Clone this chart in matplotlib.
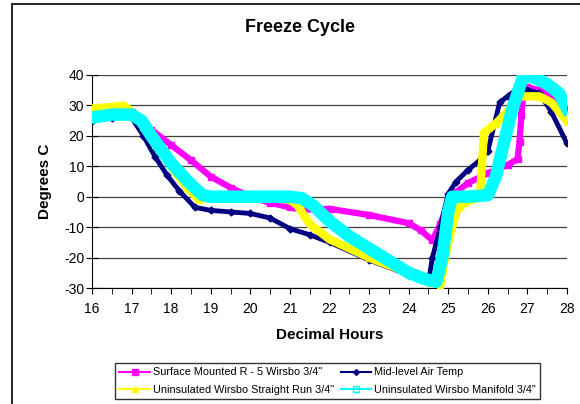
import matplotlib.pyplot as plt
from matplotlib.patches import Rectangle

plt.rcParams['font.family'] = ['Liberation Sans', 'DejaVu Sans']
plt.rcParams['axes.unicode_minus'] = False

# surface mounted (magenta)
mag_x = [16.0, 16.5, 17.0, 17.5, 18.0, 18.5, 19.0, 19.5, 20.0, 20.5, 21.0, 21.3, 22.0, 23.0, 24.0,
         24.3, 24.6, 24.8, 25.0, 25.2, 25.5, 26.0, 26.5, 26.75, 26.8, 26.85, 26.9, 27.0, 27.3, 27.6, 28.0]
mag_y = [28, 28.5, 28, 22, 17, 12, 6.6, 3, 0, -2, -3.5, -4.3, -4, -6, -8.7,
         -11, -14.3, -9, -2, 1.5, 4.5, 7.7, 10.4, 12.4, 18, 27, 35, 36, 35, 33, 29]

# mid-level air temp (navy)
air_x = [16.0, 16.5, 17.0, 17.3, 17.6, 17.9, 18.2, 18.6, 19.0, 19.5, 20.0, 20.5, 21.0, 21.5, 22.0,
         23.0, 24.0, 24.5, 24.6, 24.8, 25.0, 25.2, 25.5, 25.8, 26.0, 26.3, 26.5, 26.8, 27.0, 27.3, 27.6, 28.0]
air_y = [25, 26, 26, 20, 13, 7, 2, -3.5, -4.5, -5, -5.5, -7, -10.5, -12.5, -15,
         -20.8, -25.7, -28, -20, -10, 1, 5, 8.8, 12, 15, 31, 33, 36, 35, 34, 28, 17.5]

# straight run (yellow)
str_x = [16.0, 16.5, 16.8, 17.0, 17.3, 17.6, 18.0, 18.4, 18.7, 19.0, 20.0, 21.0, 21.2, 21.5, 22.0,
         23.0, 24.0, 24.5, 24.8, 25.0, 25.2, 25.4, 25.8, 25.85, 25.9, 26.2, 26.5, 26.8, 27.0, 27.3, 27.6, 28.0]
str_y = [29, 29.5, 30, 28, 23, 17, 10, 3, -1, 0, 0, -1, -3, -9, -14,
         -20, -25, -28, -29, -15, -5, -2, 0, 10, 21, 24, 28, 33, 33, 33, 31, 25]

# manifold (cyan)
man_x = [16.0, 16.5, 17.0, 17.25, 17.5, 18.0, 18.5, 18.8, 19.0, 19.5, 20.0, 20.5, 21.0, 21.3, 21.6,
         22.0, 22.5, 23.0, 23.5, 24.0, 24.4, 24.7, 24.85, 25.0, 25.1, 25.5, 26.0, 26.2, 26.3, 26.6,
         26.9, 27.2, 27.5, 27.8, 28.0]
man_y = [26, 27, 27, 25, 20, 11, 4, 0.5, 0, 0, 0, 0, 0, -0.5, -3,
         -8, -13, -17, -21, -25, -27, -28, -20, -5, 0, 0, 0.5, 6.5, 12, 28,
         40, 39, 37, 34, 29]

fig = plt.figure(figsize=(5.8, 4.04), dpi=100)
# chart area border, cropped on the right and bottom like the reference
fig.patches.append(Rectangle((12 / 580, -0.1), 1.2, 1 - 4 / 404 + 0.1, transform=fig.transFigure,
                             fill=False, edgecolor='black', linewidth=1.2))

ax = fig.add_axes([92 / 580, 1 - 288 / 404, 475 / 580, 213 / 404])

ax.plot(mag_x, mag_y, color='#ff00ff', linewidth=4.5, marker='s', markersize=4, zorder=2)
ax.plot(air_x, air_y, color='#000080', linewidth=3.5, marker='D', markersize=3.5, zorder=3)
ax.plot(str_x, str_y, color='#ffff00', linewidth=6, marker='^', markersize=4.5, zorder=4)
ax.plot(man_x, man_y, color='#00ffff', linewidth=9, marker='s', markersize=5, markerfacecolor='none', zorder=5)

ax.set_xlim(16, 28)
ax.set_ylim(-30, 40)
ax.set_xticks(range(16, 29))
ax.set_xticks([x + 0.5 for x in range(16, 28)], minor=True)
ax.set_yticks(range(-30, 41, 10))
ax.tick_params(axis='x', direction='out', length=4, labelsize=10, pad=6)
ax.tick_params(axis='x', which='minor', direction='out', length=4)
ax.tick_params(axis='y', direction='inout', length=9, labelsize=10, pad=1)

ax.grid(axis='y', color='#404040', linewidth=0.9)
ax.set_axisbelow(True)
for side in ['top', 'right']:
    ax.spines[side].set_visible(False)

ax.set_xlabel('Decimal Hours', fontsize=11, fontweight='bold', labelpad=9)
ax.set_ylabel('Degrees C', fontsize=11, fontweight='bold', labelpad=9)
fig.text(300 / 580, 1 - 28 / 404, 'Freeze Cycle', fontsize=13, fontweight='bold', ha='center', va='center')

# legend in Excel row order
handles = [
    plt.Line2D([], [], color='#ff00ff', marker='s', markersize=4),
    plt.Line2D([], [], color='#ffff00', marker='^', markersize=4),
    plt.Line2D([], [], color='#000080', marker='D', markersize=3),
    plt.Line2D([], [], color='#00ffff', marker='s', markersize=5, markerfacecolor='none'),
]
labels = ['Surface Mounted R - 5 Wirsbo 3/4"', 'Uninsulated Wirsbo Straight Run 3/4"',
          'Mid-level Air Temp', 'Uninsulated Wirsbo Manifold 3/4"']
leg = fig.legend(handles, labels, ncol=2, loc='upper left', bbox_to_anchor=(115 / 580, 1 - 363 / 404),
                 fontsize=7.8, frameon=True, fancybox=False, edgecolor='black', handlelength=2.8,
                 handletextpad=0.3, columnspacing=0.6, borderaxespad=0, borderpad=0.4, labelspacing=0.7)
leg.get_frame().set_linewidth(1.0)

fig.savefig('out.png', dpi=100)
